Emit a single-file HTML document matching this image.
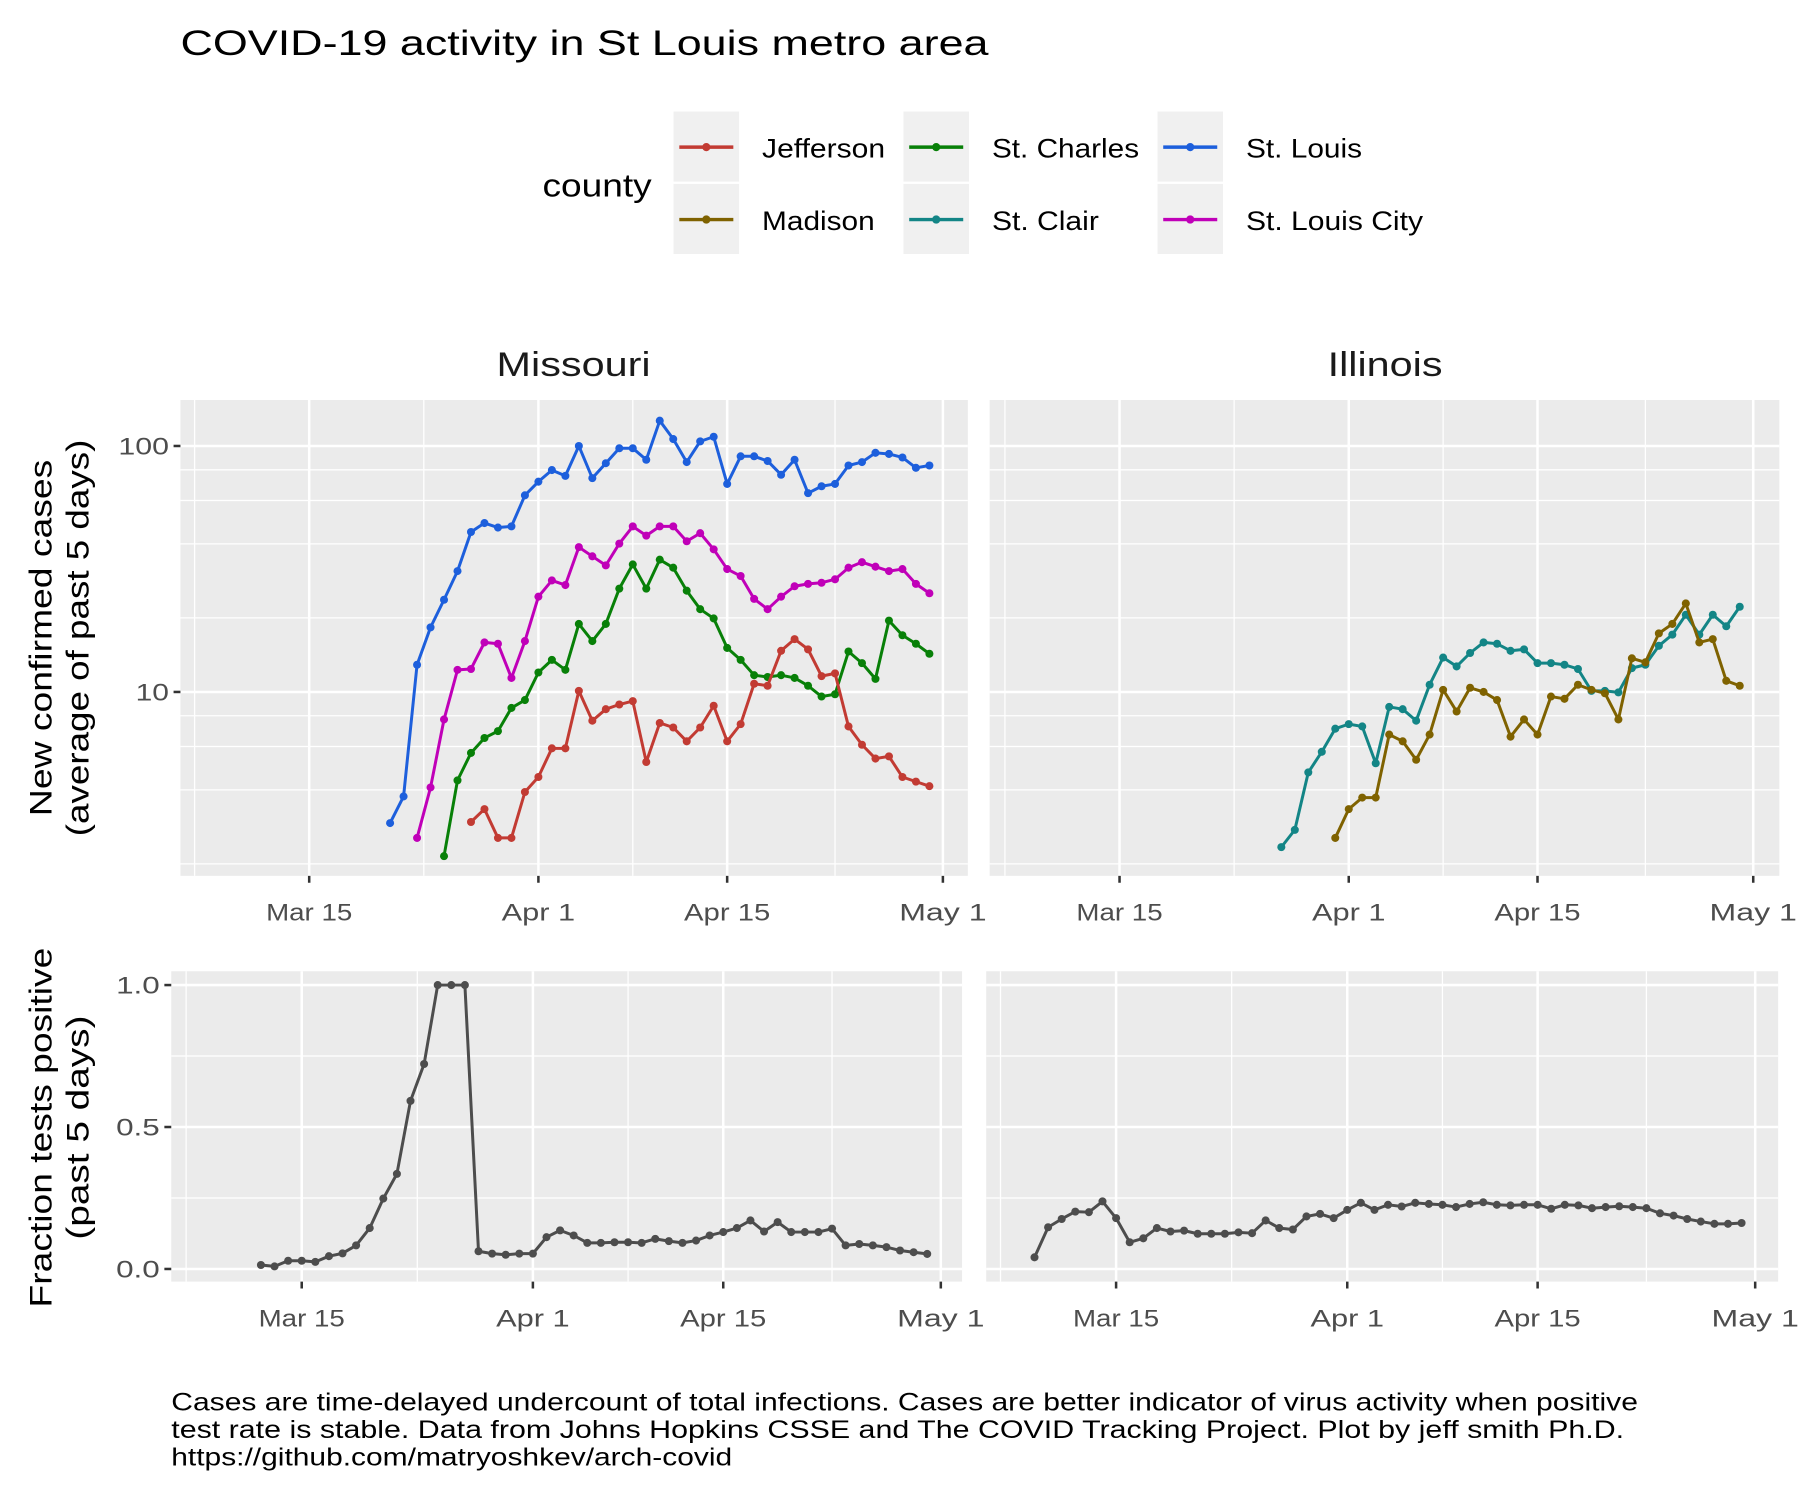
<!DOCTYPE html>
<html><head><meta charset="utf-8">
<style>
html,body{margin:0;padding:0;background:#fff;}
svg{display:block;}
text{font-family:"Liberation Sans",Arial,sans-serif;}
</style></head>
<body>
<svg id="chart" width="1800" height="1500" viewBox="0 0 1566 1305" xmlns="http://www.w3.org/2000/svg">
<text x="157" y="48" font-size="31" fill="#000" textLength="703" lengthAdjust="spacingAndGlyphs">COVID-19 activity in St Louis metro area</text>
<g id="legend"></g>
<g id="panels"></g>
<text transform="translate(45,555) rotate(-90)" text-anchor="middle" font-size="27" fill="#000" textLength="310" lengthAdjust="spacingAndGlyphs">New confirmed cases</text>
<text transform="translate(77,555) rotate(-90)" text-anchor="middle" font-size="27" fill="#000" textLength="345" lengthAdjust="spacingAndGlyphs">(average of past 5 days)</text>
<text transform="translate(45,981) rotate(-90)" text-anchor="middle" font-size="27" fill="#000" textLength="313" lengthAdjust="spacingAndGlyphs">Fraction tests positive</text>
<text transform="translate(77,981) rotate(-90)" text-anchor="middle" font-size="27" fill="#000" textLength="195" lengthAdjust="spacingAndGlyphs">(past 5 days)</text>
<g font-size="21.5" fill="#000">
<text x="149" y="1227" textLength="1276" lengthAdjust="spacingAndGlyphs">Cases are time-delayed undercount of total infections. Cases are better indicator of virus activity when positive</text>
<text x="149" y="1251" textLength="1264" lengthAdjust="spacingAndGlyphs">test rate is stable. Data from Johns Hopkins CSSE and The COVID Tracking Project. Plot by jeff smith Ph.D.</text>
<text x="149" y="1275" textLength="488" lengthAdjust="spacingAndGlyphs">https://github.com/matryoshkev/arch-covid</text>
</g>
</svg>
<script>
// ---- data (day index: 0 = Mar 15) ----
const countyNames = ["Jefferson","Madison","St. Charles","St. Clair","St. Louis","St. Louis City"];
const countyColors = ["#c23b33","#7f6200","#088008","#138586","#1d5fdc","#c000b8"];
const tickLabels = ["Mar 15","Apr  1","Apr 15","May  1"];
const tickDays = [0,17,31,47];
const stLouisStart = 6;
const stLouis = [2.93,3.76,12.9,18.3,23.7,31.0,44.7,48.6,46.6,47.1,63.0,71.6,79.8,75.6,100,74.0,85.1,97.9,97.9,87.9,126.7,106.7,86.0,104.4,109,70.1,90.8,90.8,86.9,76.4,87.9,64.3,68.6,70.1,83.3,86,93.8,92.8,89.8,81.5,83.3];
const stLouisCityStart = 8;
const stLouisCity = [2.55,4.09,7.73,12.3,12.4,15.9,15.7,11.4,16.1,24.4,28.4,27.2,38.8,35.6,32.7,40.1,47.1,43.2,47.1,47.1,41.0,44.2,38.0,31.6,29.6,23.9,21.7,24.4,26.9,27.5,27.8,28.7,32.0,33.7,32.3,31.0,31.6,27.5,25.2];
const stCharlesStart = 10;
const stCharles = [2.15,4.37,5.65,6.50,6.93,8.61,9.27,12.0,13.5,12.3,18.9,16.1,18.9,26.3,33.0,26.3,34.5,32.0,25.8,21.7,19.9,15.1,13.5,11.7,11.5,11.7,11.4,10.6,9.58,9.79,14.6,13.1,11.3,19.5,17.0,15.7,14.3];
const jeffersonStart = 12;
const jefferson = [2.96,3.34,2.55,2.55,3.92,4.51,5.90,5.90,10.1,7.64,8.51,8.89,9.18,5.19,7.48,7.17,6.30,7.17,8.79,6.30,7.40,10.8,10.6,14.7,16.4,14.9,11.6,11.9,7.24,6.10,5.36,5.47,4.51,4.32,4.14];
const stClairStart = 12;
const stClair = [2.34,2.75,4.71,5.71,7.09,7.40,7.24,5.13,8.69,8.51,7.64,10.7,13.8,12.7,14.4,15.9,15.7,14.7,14.9,13.1,13.1,12.9,12.4,10.1,10.1,9.96,12.5,12.9,15.4,17.1,20.6,17.1,20.6,18.5,22.2];
const madisonStart = 16;
const madison = [2.55,3.34,3.72,3.72,6.71,6.30,5.30,6.71,10.2,8.33,10.4,10.0,9.27,6.58,7.73,6.71,9.58,9.38,10.7,10.2,9.88,7.73,13.7,13.2,17.3,18.9,22.9,15.9,16.4,11.1,10.6];
const moPosStart = -3;
const moPositive = [0.014,0.009,0.029,0.029,0.025,0.045,0.055,0.083,0.144,0.248,0.335,0.592,0.722,1,1,1,0.0625,0.054,0.05,0.054,0.054,0.112,0.136,0.118,0.092,0.092,0.094,0.094,0.092,0.106,0.098,0.092,0.1,0.118,0.13,0.144,0.171,0.132,0.165,0.13,0.13,0.13,0.142,0.083,0.088,0.083,0.077,0.065,0.059,0.053];
const ilPosStart = -6;
const ilPositive = [0.041,0.147,0.176,0.202,0.2,0.238,0.179,0.094,0.108,0.144,0.132,0.135,0.124,0.124,0.124,0.129,0.126,0.171,0.144,0.139,0.185,0.194,0.179,0.208,0.233,0.208,0.226,0.22,0.233,0.229,0.226,0.218,0.229,0.235,0.226,0.224,0.226,0.226,0.212,0.226,0.224,0.214,0.218,0.221,0.218,0.214,0.196,0.188,0.176,0.167,0.159,0.159,0.162];
const caseTicks = [10,100];
const caseMinor = [2,4,6,8,20,40,60,80];
const posTicks = [0,0.5,1];
const posTickLabels = ["0.0","0.5","1.0"];
const posMinor = [0.25,0.75];

const NS="http://www.w3.org/2000/svg";
const svg=document.getElementById('chart');
const panelsG=document.getElementById('panels');
function mk(tag,attrs,parent){const e=document.createElementNS(NS,tag);for(const k in attrs)e.setAttribute(k,attrs[k]);(parent||svg).appendChild(e);return e;}

function logY(v){return 388-214*Math.log10(v/100);}
function linY(v){return 1104-247*v;}
function makeX(x0,perDay){return d=>x0+perDay*d;}
const tickWidths=[75,64,75,76];

function drawPanel(p){
  const g=mk('g',{},panelsG);
  
  
  const bg=mk('rect',{x:p.x1,y:p.y1,width:p.x2-p.x1,height:p.y2-p.y1,fill:'#ebebeb'},g);
  
  
  p.yMinor.forEach(v=>{const y=p.fy(v);mk('line',{x1:p.x1,x2:p.x2,y1:y,y2:y,stroke:'#fff','stroke-width':1.1},g);});
  [-8.5,8.5,24,39].forEach(d=>{const x=p.fx(d);mk('line',{x1:x,x2:x,y1:p.y1,y2:p.y2,stroke:'#fff','stroke-width':1.1},g);});
  p.yTicks.forEach(v=>{const y=p.fy(v);mk('line',{x1:p.x1,x2:p.x2,y1:y,y2:y,stroke:'#fff','stroke-width':2.2},g);});
  tickDays.forEach(d=>{const x=p.fx(d);mk('line',{x1:x,x2:x,y1:p.y1,y2:p.y2,stroke:'#fff','stroke-width':2.2},g);});
  tickDays.forEach((d,i)=>{const x=p.fx(d);
    mk('line',{x1:x,x2:x,y1:p.y2,y2:p.y2+6,stroke:'#333','stroke-width':2.2},g);
    const t=mk('text',{x:x,y:p.y2+39,'text-anchor':'middle','font-size':21,fill:'#4d4d4d','xml:space':'preserve',textLength:tickWidths[i],lengthAdjust:'spacingAndGlyphs'},g);
    t.textContent=tickLabels[i];
    
    
  });
  if(p.showY){
    p.yTicks.forEach((v,i)=>{const y=p.fy(v);
      mk('line',{x1:p.x1-6,x2:p.x1,y1:y,y2:y,stroke:'#333','stroke-width':2.2},g);
      const w=p.yLabels[i].length===2?29:(p.yLabels[i]==="100"?44:38);
      const t=mk('text',{x:p.x1-10,y:y+7.5,'text-anchor':'end','font-size':21,fill:'#4d4d4d',textLength:w,lengthAdjust:'spacingAndGlyphs'},g);
      t.textContent=p.yLabels[i];
      
      
    });
  }
  p.series.forEach(s=>{
    const pts=s.values.map((v,i)=>[p.fx(s.start+i),p.fy(v)]);
    const pl=mk('polyline',{points:pts.map(q=>q.join(',')).join(' '),fill:'none',stroke:s.color,'stroke-width':2.6,'stroke-linejoin':'round'},g);
    
    
    pts.forEach(q=>{
      const c=mk('circle',{cx:q[0],cy:q[1],r:3.5,fill:s.color},g);
      
      
    });
  });
}

const xMOtop=makeX(269,11.73), xILtop=makeX(974,11.73);
const xMObot=makeX(262.5,11.83), xILbot=makeX(971,11.83);
drawPanel({name:'missouri-cases-panel',x1:157,x2:842,y1:348,y2:762,fx:xMOtop,fy:logY,yTicks:caseTicks,yLabels:["10","100"],yMinor:caseMinor,showY:true,
  series:[{name:'st-louis',color:countyColors[4],start:stLouisStart,values:stLouis},
          {name:'st-louis-city',color:countyColors[5],start:stLouisCityStart,values:stLouisCity},
          {name:'st-charles',color:countyColors[2],start:stCharlesStart,values:stCharles},
          {name:'jefferson',color:countyColors[0],start:jeffersonStart,values:jefferson}]});
drawPanel({name:'illinois-cases-panel',x1:861,x2:1548,y1:348,y2:762,fx:xILtop,fy:logY,yTicks:caseTicks,yLabels:["10","100"],yMinor:caseMinor,showY:false,
  series:[{name:'st-clair',color:countyColors[3],start:stClairStart,values:stClair},
          {name:'madison',color:countyColors[1],start:madisonStart,values:madison}]});
drawPanel({name:'missouri-positive-panel',x1:149,x2:837,y1:845,y2:1115,fx:xMObot,fy:linY,yTicks:posTicks,yLabels:posTickLabels,yMinor:posMinor,showY:true,
  series:[{name:'missouri-positive',color:'#4d4d4d',start:moPosStart,values:moPositive}]});
drawPanel({name:'illinois-positive-panel',x1:858,x2:1547,y1:845,y2:1115,fx:xILbot,fy:linY,yTicks:posTicks,yLabels:posTickLabels,yMinor:posMinor,showY:false,
  series:[{name:'illinois-positive',color:'#4d4d4d',start:ilPosStart,values:ilPositive}]});

[["Missouri",499,"strip-missouri",134],["Illinois",1205,"strip-illinois",100]].forEach(a=>{
  const t=mk('text',{x:a[1],y:327,'text-anchor':'middle','font-size':30,fill:'#1a1a1a',textLength:a[3],lengthAdjust:'spacingAndGlyphs'});
  t.textContent=a[0];
  
  
});

const lg=document.getElementById('legend');
const lt=mk('text',{x:472,y:171,'font-size':28,fill:'#000',textLength:95,lengthAdjust:'spacingAndGlyphs'},lg);
lt.textContent='county';


const legendOrder=[0,1,2,3,4,5];
const labelWidths=[107,98,128,93,101,154];
const colX=[586,786,1007], rowY=[97,160];
legendOrder.forEach((ci,k)=>{
  const col=Math.floor(k/2), row=k%2;
  const kx=colX[col], ky=rowY[row];
  const eg=mk('g',{},lg);
  
  
  mk('rect',{x:kx,y:ky,width:57,height:61,fill:'#f0f0f0'},eg);
  mk('line',{x1:kx+5,x2:kx+52,y1:ky+31,y2:ky+31,stroke:countyColors[ci],'stroke-width':3},eg);
  mk('circle',{cx:kx+28.5,cy:ky+31,r:3.6,fill:countyColors[ci]},eg);
  const t=mk('text',{x:kx+77,y:ky+40,'font-size':23,fill:'#000',textLength:labelWidths[ci],lengthAdjust:'spacingAndGlyphs'},eg);
  t.textContent=countyNames[ci];
});
</script>
</body></html>
